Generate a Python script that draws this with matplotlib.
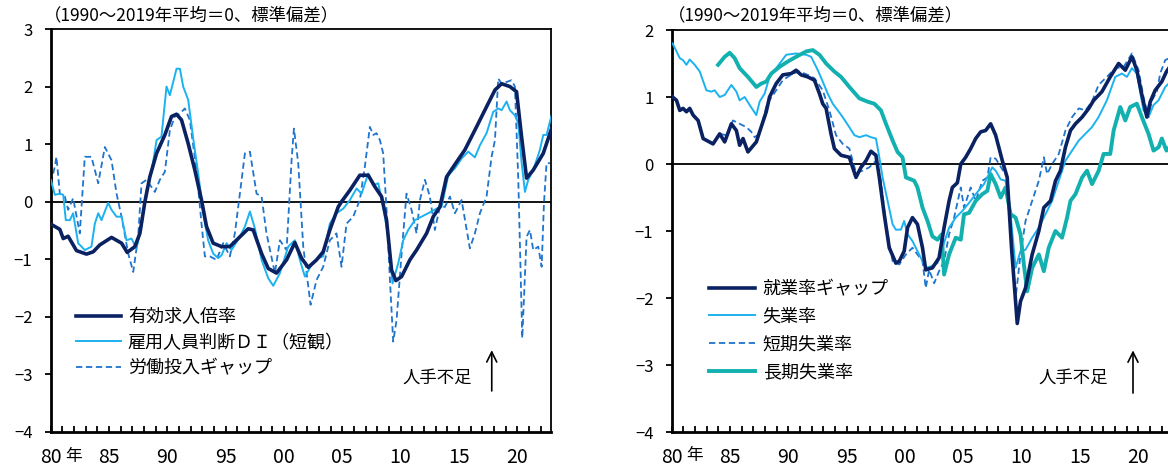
import numpy as np
import matplotlib
matplotlib.use("Agg")
from matplotlib import pyplot as plt

plt.rcParams['font.family'] = ['Noto Sans CJK JP', 'DejaVu Sans']

# ---- left panel data ----
jobs_x = [1980.03, 1980.80, 1981.09, 1981.51, 1982.23, 1983.09, 1983.66, 1984.23, 1985.23, 1986.09,
          1986.57, 1987.23, 1987.66, 1988.09, 1988.51, 1989.09, 1989.80, 1990.37, 1990.80, 1991.23,
          1991.80, 1992.37, 1992.94, 1993.37, 1993.94, 1994.66, 1995.37, 1996.23, 1996.94, 1997.37,
          1998.09, 1998.66, 1999.37, 2000.23, 2000.94, 2001.51, 2002.09, 2002.80, 2003.37, 2003.94,
          2004.66, 2004.94, 2005.66, 2006.51, 2007.23, 2007.80, 2008.37, 2008.80, 2009.23, 2009.60,
          2010.09, 2010.80, 2011.37, 2012.23, 2012.80, 2013.37, 2013.94, 2014.80, 2015.51, 2016.51,
          2017.37, 2018.09, 2018.66, 2019.37, 2019.94, 2020.37, 2020.80, 2021.37, 2022.23, 2022.94]
jobs_y = [-0.39, -0.48, -0.64, -0.60, -0.85, -0.91, -0.87, -0.75, -0.62, -0.72,
          -0.88, -0.78, -0.55, 0.00, 0.43, 0.84, 1.16, 1.48, 1.52, 1.42,
          1.01, 0.55, 0.03, -0.43, -0.72, -0.78, -0.78, -0.61, -0.47, -0.49,
          -0.90, -1.16, -1.24, -1.01, -0.71, -0.98, -1.14, -1.01, -0.87, -0.49,
          -0.09, 0.00, 0.20, 0.46, 0.46, 0.26, 0.09, -0.32, -1.19, -1.37,
          -1.30, -1.01, -0.84, -0.55, -0.26, -0.09, 0.43, 0.69, 0.90, 1.30,
          1.65, 1.94, 2.05, 2.00, 1.91, 1.13, 0.41, 0.55, 0.84, 1.27]

di_x = [1980.03, 1980.37, 1980.80, 1981.09, 1981.31, 1981.66, 1981.94, 1982.37, 1982.94, 1983.51,
        1983.80, 1984.09, 1984.37, 1984.94, 1985.23, 1985.66, 1986.09, 1986.51, 1986.94, 1987.37,
        1987.80, 1988.23, 1988.66, 1989.09, 1989.51, 1989.94, 1990.23, 1990.80, 1991.09, 1991.37,
        1991.80, 1992.23, 1992.66, 1993.09, 1993.51, 1993.94, 1994.37, 1994.66, 1995.09, 1995.51,
        1996.23, 1996.66, 1997.09, 1997.51, 1998.09, 1998.66, 1999.09, 1999.66, 2000.37, 2000.94,
        2001.37, 2001.80, 2002.37, 2002.94, 2003.37, 2003.94, 2004.51, 2005.09, 2005.66, 2006.23,
        2006.66, 2007.23, 2007.66, 2008.09, 2008.51, 2008.94, 2009.31, 2009.80, 2010.23, 2010.66,
        2011.23, 2011.80, 2012.37, 2013.09, 2013.51, 2014.09, 2014.66, 2015.23, 2015.80, 2016.37,
        2016.80, 2017.37, 2017.94, 2018.37, 2018.66, 2019.09, 2019.37, 2019.80, 2020.09, 2020.37,
        2020.66, 2020.94, 2021.37, 2021.94, 2022.23, 2022.51, 2022.94]
di_y = [0.38, 0.12, 0.14, 0.12, -0.32, -0.32, -0.20, -0.72, -0.84, -0.78,
        -0.38, -0.20, -0.32, -0.02, -0.14, -0.26, -0.26, -0.67, -0.64, -0.81,
        -0.43, 0.20, 0.52, 1.07, 1.13, 2.00, 1.85, 2.31, 2.31, 2.00,
        1.77, 1.10, 0.49, -0.20, -0.67, -0.90, -0.98, -0.93, -0.72, -0.84,
        -0.61, -0.43, -0.17, -0.46, -1.01, -1.33, -1.46, -1.24, -0.78, -0.67,
        -1.01, -1.30, -1.10, -0.98, -0.95, -0.38, -0.20, -0.12, 0.03, 0.23,
        0.14, 0.49, 0.29, 0.32, -0.09, -0.61, -1.42, -1.07, -0.67, -0.49,
        -0.32, -0.26, -0.20, -0.12, -0.09, 0.46, 0.58, 0.75, 0.87, 0.77,
        0.98, 1.19, 1.56, 1.62, 1.59, 1.74, 1.59, 1.50, 1.36, 0.69,
        0.17, 0.38, 0.55, 0.90, 1.16, 1.16, 1.50]

gap_x = [1980.03, 1980.37, 1980.51, 1980.80, 1981.23, 1981.51, 1981.94, 1982.51, 1982.94, 1983.51,
         1984.09, 1984.66, 1985.23, 1985.66, 1986.09, 1986.66, 1987.09, 1987.51, 1987.80, 1988.23,
         1988.94, 1989.37, 1989.80, 1990.23, 1990.66, 1991.09, 1991.51, 1991.94, 1992.51, 1992.94,
         1993.23, 1993.66, 1994.23, 1994.80, 1995.37, 1995.80, 1996.23, 1996.66, 1997.09, 1997.66,
         1998.09, 1998.51, 1999.23, 1999.66, 2000.23, 2000.66, 2000.86, 2001.23, 2001.66, 2002.29,
         2002.80, 2003.37, 2003.94, 2004.51, 2004.94, 2005.37, 2005.94, 2006.51, 2006.94, 2007.37,
         2007.66, 2007.94, 2008.23, 2008.51, 2008.80, 2009.09, 2009.37, 2009.66, 2010.09, 2010.51,
         2010.94, 2011.37, 2011.66, 2012.09, 2012.51, 2012.94, 2013.37, 2013.80, 2014.23, 2014.66,
         2015.23, 2015.94, 2016.37, 2016.80, 2017.37, 2017.80, 2018.09, 2018.37, 2018.66, 2019.09,
         2019.51, 2019.80, 2020.09, 2020.43, 2020.80, 2021.09, 2021.37, 2021.80, 2022.09, 2022.29,
         2022.51, 2022.80]
gap_y = [0.32, 0.61, 0.78, 0.14, 0.09, -0.14, 0.06, -0.55, 0.78, 0.78,
         0.32, 0.95, 0.72, 0.14, -0.26, -0.90, -1.22, -0.61, 0.32, 0.38,
         0.17, 0.38, 0.52, 1.24, 1.48, 1.53, 1.62, 1.42, 0.55, -0.38,
         -0.95, -0.95, -1.01, -0.72, -0.95, -0.55, 0.14, 0.84, 0.87, 0.14,
         0.09, -0.55, -1.24, -0.67, -0.84, 0.72, 1.27, 0.67, -0.78, -1.79,
         -1.36, -1.13, -0.67, -0.55, -1.13, -0.38, -0.26, 0.03, 0.61, 1.30,
         1.16, 1.19, 1.07, 0.84, -0.14, -1.36, -2.43, -2.05, -0.90, 0.14,
         -0.14, -0.55, 0.03, 0.38, 0.09, -0.49, -0.09, -0.09, 0.09, -0.20,
         0.03, -0.81, -0.55, -0.20, 0.09, 0.78, 1.07, 2.14, 2.05, 2.08,
         2.11, 2.00, 0.38, -2.37, -0.61, -0.49, -0.84, -0.78, -1.13, -0.03,
         0.67, 0.67]

# ---- right panel data ----
emp_x = [1980.09, 1980.43, 1980.71, 1980.99, 1981.28, 1981.56, 1981.85, 1982.28, 1982.71, 1983.56,
         1984.13, 1984.56, 1985.13, 1985.56, 1985.84, 1986.13, 1986.55, 1987.27, 1987.55, 1988.12,
         1988.40, 1988.97, 1989.54, 1990.26, 1990.68, 1991.11, 1991.68, 1992.25, 1992.68, 1992.96,
         1993.25, 1993.67, 1993.96, 1994.53, 1995.24, 1995.81, 1996.24, 1996.67, 1997.09, 1997.52,
         1997.81, 1998.23, 1998.66, 1999.23, 1999.52, 1999.94, 2000.23, 2000.65, 2001.08, 2001.51,
         2001.79, 2002.36, 2002.93, 2003.36, 2003.79, 2004.07, 2004.50, 2004.79, 2005.21, 2005.64,
         2006.07, 2006.50, 2006.92, 2007.35, 2007.78, 2008.35, 2008.77, 2009.14, 2009.63, 2009.91,
         2010.34, 2010.91, 2011.48, 2011.91, 2012.48, 2012.91, 2013.33, 2013.76, 2014.19, 2014.62,
         2015.19, 2015.76, 2016.18, 2016.89, 2017.60, 2018.32, 2018.89, 2019.46, 2019.88, 2020.31,
         2020.74, 2021.03, 2021.45, 2022.02, 2022.42, 2022.90]
emp_y = [1.00, 0.95, 0.80, 0.83, 0.78, 0.83, 0.73, 0.65, 0.38, 0.30,
         0.45, 0.33, 0.60, 0.50, 0.28, 0.38, 0.18, 0.33, 0.48, 0.78,
         1.00, 1.20, 1.33, 1.35, 1.40, 1.33, 1.30, 1.25, 1.05, 0.90,
         0.83, 0.45, 0.23, 0.13, 0.10, -0.20, -0.05, 0.05, 0.19, 0.13,
         -0.20, -0.75, -1.25, -1.48, -1.45, -1.30, -0.95, -0.80, -0.90, -1.25,
         -1.58, -1.55, -1.40, -0.95, -0.55, -0.35, -0.28, 0.00, 0.10, 0.23,
         0.38, 0.48, 0.50, 0.60, 0.43, 0.05, -0.20, -1.25, -2.38, -2.05,
         -1.85, -1.35, -1.00, -0.65, -0.55, -0.25, -0.10, 0.25, 0.50, 0.60,
         0.70, 0.83, 0.95, 1.08, 1.30, 1.50, 1.40, 1.60, 1.40, 1.03,
         0.70, 0.93, 1.10, 1.23, 1.38, 1.50]

unemp_x = [1980.09, 1980.43, 1980.71, 1980.99, 1981.28, 1981.56, 1981.99, 1982.42, 1982.99, 1983.42,
           1983.70, 1984.13, 1984.56, 1985.13, 1985.56, 1985.84, 1986.27, 1986.70, 1987.27, 1987.55,
           1987.98, 1988.40, 1988.97, 1989.83, 1990.68, 1991.54, 1991.97, 1992.54, 1992.96, 1993.39,
           1993.82, 1994.25, 1994.67, 1995.24, 1995.67, 1996.10, 1996.67, 1997.09, 1997.52, 1997.81,
           1998.09, 1998.52, 1998.95, 1999.23, 1999.66, 1999.94, 2000.23, 2000.65, 2001.08, 2001.51,
           2001.79, 2002.22, 2002.79, 2003.22, 2003.79, 2004.36, 2004.93, 2005.50, 2006.07, 2006.78,
           2007.21, 2007.49, 2007.78, 2008.21, 2008.63, 2009.06, 2009.49, 2009.91, 2010.34, 2010.91,
           2011.48, 2012.05, 2012.62, 2013.19, 2013.76, 2014.33, 2014.90, 2015.47, 2016.03, 2016.60,
           2017.31, 2018.03, 2018.60, 2019.03, 2019.46, 2019.88, 2020.45, 2020.88, 2021.31, 2021.74,
           2022.31, 2022.90]
unemp_y = [1.80, 1.68, 1.58, 1.55, 1.48, 1.56, 1.48, 1.38, 1.10, 1.08,
           1.10, 1.00, 1.03, 1.18, 1.08, 0.95, 1.00, 0.88, 0.73, 0.93,
           1.05, 1.30, 1.43, 1.63, 1.65, 1.63, 1.60, 1.40, 1.23, 1.05,
           0.90, 0.80, 0.70, 0.55, 0.43, 0.40, 0.43, 0.40, 0.38, 0.10,
           -0.20, -0.55, -0.90, -0.98, -0.98, -0.85, -1.05, -1.15, -1.30, -1.45,
           -1.55, -1.53, -1.48, -1.25, -0.95, -0.80, -0.70, -0.58, -0.45, -0.30,
           -0.15, -0.05, -0.10, -0.23, -0.25, -0.75, -1.55, -1.30, -1.28, -1.10,
           -0.95, -0.75, -0.55, -0.25, 0.05, 0.20, 0.35, 0.45, 0.55, 0.70,
           0.95, 1.30, 1.35, 1.30, 1.43, 1.35, 0.80, 0.70, 0.88, 0.95,
           1.15, 1.25]

short_x = [1984.13, 1984.70, 1985.27, 1985.84, 1986.41, 1986.84, 1987.12, 1987.55, 1988.12, 1988.40,
           1988.97, 1989.54, 1990.40, 1990.97, 1991.68, 1992.25, 1992.96, 1993.53, 1994.10, 1994.67,
           1995.24, 1995.81, 1996.38, 1996.95, 1997.52, 1997.95, 1998.38, 1998.95, 1999.52, 2000.09,
           2000.65, 2001.08, 2001.51, 2001.79, 2002.08, 2002.51, 2002.93, 2003.36, 2003.79, 2004.22,
           2004.79, 2005.07, 2005.64, 2006.07, 2006.64, 2007.07, 2007.35, 2007.78, 2008.35, 2008.77,
           2009.14, 2009.49, 2009.91, 2010.34, 2010.91, 2011.48, 2011.91, 2012.19, 2012.62, 2013.19,
           2013.76, 2014.33, 2014.90, 2015.47, 2016.03, 2016.60, 2017.31, 2018.03, 2018.75, 2019.46,
           2020.03, 2020.45, 2020.88, 2021.17, 2021.60, 2021.88, 2022.31, 2022.90]
short_y = [0.45, 0.43, 0.65, 0.60, 0.55, 0.48, 0.40, 0.45, 0.85, 0.95,
           1.10, 1.25, 1.35, 1.38, 1.33, 1.28, 1.10, 0.80, 0.43, 0.30,
           0.23, -0.13, -0.10, -0.05, 0.05, -0.25, -0.90, -1.45, -1.50, -1.35,
           -1.25, -1.35, -1.45, -1.85, -1.58, -1.78, -1.60, -1.45, -1.05, -0.80,
           -0.35, -0.65, -0.35, -0.55, -0.25, -0.20, 0.10, 0.08, -0.08, -0.20,
           -1.15, -2.00, -1.35, -0.85, -0.55, -0.25, 0.10, -0.15, 0.00, 0.15,
           0.50, 0.70, 0.83, 0.80, 0.93, 1.18, 1.30, 1.43, 1.45, 1.65,
           1.40, 1.00, 0.70, 0.95, 1.08, 1.35, 1.55, 1.60]

long_x = [1983.99, 1984.56, 1984.99, 1985.41, 1985.84, 1986.55, 1987.27, 1987.69, 1988.12, 1988.55,
          1989.26, 1989.97, 1990.68, 1991.54, 1992.11, 1992.68, 1993.25, 1993.96, 1994.53, 1995.24,
          1996.10, 1996.81, 1997.38, 1997.95, 1998.38, 1998.95, 1999.37, 1999.80, 2000.09, 2000.80,
          2001.08, 2001.51, 2001.94, 2002.36, 2002.79, 2003.16, 2003.36, 2003.79, 2004.36, 2004.79,
          2005.07, 2005.50, 2006.07, 2006.64, 2007.07, 2007.35, 2007.78, 2008.21, 2008.63, 2009.06,
          2009.49, 2009.91, 2010.20, 2010.48, 2010.91, 2011.48, 2011.91, 2012.33, 2012.90, 2013.47,
          2013.90, 2014.19, 2014.62, 2015.19, 2015.61, 2016.04, 2016.61, 2017.03, 2017.60, 2017.89,
          2018.46, 2018.89, 2019.31, 2019.88, 2020.31, 2020.88, 2021.31, 2021.74, 2022.02, 2022.42,
          2022.90]
long_y = [1.48, 1.60, 1.66, 1.58, 1.43, 1.30, 1.15, 1.20, 1.23, 1.35,
          1.45, 1.53, 1.60, 1.68, 1.70, 1.63, 1.50, 1.38, 1.30, 1.15,
          0.98, 0.93, 0.90, 0.80, 0.60, 0.35, 0.18, 0.10, -0.20, -0.25,
          -0.35, -0.65, -0.85, -1.08, -1.13, -1.05, -1.65, -1.35, -1.10, -1.13,
          -0.75, -0.73, -0.55, -0.45, -0.40, -0.15, -0.30, -0.50, -0.35, -0.75,
          -0.80, -1.05, -1.50, -1.90, -1.55, -1.35, -1.60, -1.25, -1.00, -1.10,
          -0.80, -0.55, -0.45, -0.20, -0.10, -0.30, -0.10, 0.15, 0.15, 0.50,
          0.85, 0.65, 0.85, 0.90, 0.70, 0.45, 0.20, 0.25, 0.38, 0.20,
          0.30]

year_ticks = list(range(1980, 2023))
label_years = [1980, 1985, 1990, 1995, 2000, 2005, 2010, 2015, 2020]
year_labels = ["80", "85", "90", "95", "00", "05", "10", "15", "20"]

navy = "#0b2262"
light = "#1cb2ef"
mid = "#1f74cc"
teal = "#12b0ae"

fig = plt.figure(figsize=(11.68, 4.73), dpi=100)
ax1 = fig.add_axes([50.5 / 1168, 41 / 473, 500 / 1168, 403 / 473])
ax2 = fig.add_axes([671.5 / 1168, 41 / 473, 500 / 1168, 402 / 473])


def style(ax, ymin, ymax):
    ax.set_xlim(1980, 2022.85)
    ax.set_ylim(ymin, ymax)
    ax.axhline(0, color="black", lw=1.3, zorder=1)
    ax.set_yticks(range(ymin, ymax + 1))
    ax.set_yticklabels([str(v).replace("-", "\u2212") for v in range(ymin, ymax + 1)], fontsize=12)
    ax.set_xticks(label_years)
    ax.set_xticklabels(year_labels, fontsize=14)
    ax.set_xticks(year_ticks, minor=True)
    ax.tick_params(axis="y", direction="out", length=4, width=1.3, pad=9)
    ax.tick_params(axis="x", which="both", direction="in", length=4, width=1.3, pad=11)
    for s in ax.spines.values():
        s.set_linewidth(1.3)
    ax.spines["left"].set_linewidth(2)
    ax.spines["bottom"].set_linewidth(2)
    ax.text(1982.0, -24 / 403, "年", transform=ax.get_xaxis_transform(), fontsize=12,
            ha="center", va="center")


style(ax1, -4, 3)
style(ax2, -4, 2)

# left panel
ax1.plot(jobs_x, jobs_y, color=navy, lw=2.6, label="有効求人倍率", zorder=4)
ax1.plot(di_x, di_y, color=light, lw=1.4, label="雇用人員判断ＤＩ（短観）", zorder=3)
ax1.plot(gap_x, gap_y, color=mid, lw=1.3, ls=(0, (3.5, 2)), label="労働投入ギャップ", zorder=2)
ax1.legend(loc="upper left", bbox_to_anchor=(0.05, 0.308), frameon=False, fontsize=13,
           handlelength=2.5, handletextpad=0.4, labelspacing=0.43, borderpad=0, borderaxespad=0)
ax1.annotate("", xy=(0.8825, 0.21), xytext=(0.8825, 0.095), xycoords="axes fraction",
             arrowprops=dict(arrowstyle="->", color="black", lw=1.2, mutation_scale=18))
ax1.text(0.773, 0.134, "人手不足", transform=ax1.transAxes, fontsize=12.5, ha="center", va="center")

# right panel
ax2.plot(emp_x, emp_y, color=navy, lw=2.6, label="就業率ギャップ", zorder=5)
ax2.plot(unemp_x, unemp_y, color=light, lw=1.4, label="失業率", zorder=3)
ax2.plot(short_x, short_y, color=mid, lw=1.3, ls=(0, (3.5, 2)), label="短期失業率", zorder=2)
ax2.plot(long_x, long_y, color=teal, lw=2.8, label="長期失業率", zorder=4)
ax2.legend(loc="upper left", bbox_to_anchor=(0.074, 0.378), frameon=False, fontsize=13,
           handlelength=2.6, handletextpad=0.4, labelspacing=0.54, borderpad=0, borderaxespad=0)
ax2.annotate("", xy=(0.923, 0.21), xytext=(0.923, 0.09), xycoords="axes fraction",
             arrowprops=dict(arrowstyle="->", color="black", lw=1.2, mutation_scale=18))
ax2.text(0.803, 0.134, "人手不足", transform=ax2.transAxes, fontsize=12.5, ha="center", va="center")

fig.text(44 / 1168, 1 - 15 / 473, "（1990～2019年平均＝0、標準偏差）", fontsize=12.5, ha="left", va="center")
fig.text(668 / 1168, 1 - 15 / 473, "（1990～2019年平均＝0、標準偏差）", fontsize=12.5, ha="left", va="center")

fig.savefig("out.png", dpi=100)
